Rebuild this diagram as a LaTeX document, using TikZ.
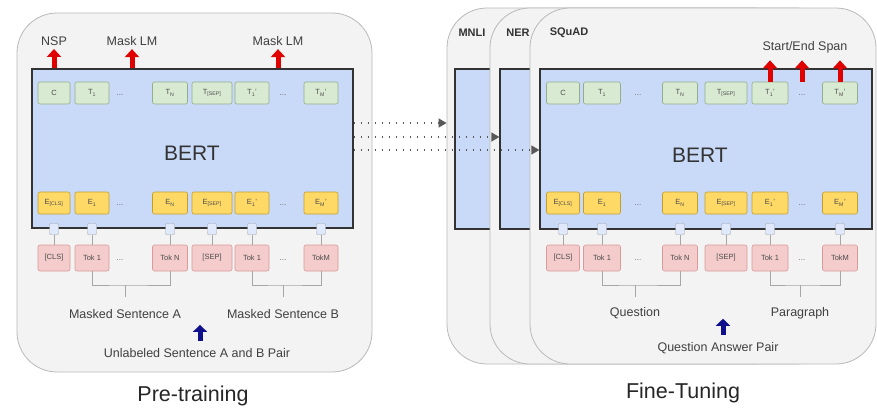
\documentclass[tikz,border=0pt]{standalone}
\usepackage{fontspec}
\setmainfont{Liberation Sans}
\usetikzlibrary{arrows.meta}

\definecolor{panelgray}{HTML}{F3F3F3}
\definecolor{bertblue}{HTML}{C9DAF8}
\definecolor{tgreen}{HTML}{D9EAD3}
\definecolor{tgreenline}{HTML}{93AE8C}
\definecolor{eyellow}{HTML}{FFD966}
\definecolor{eyellowline}{HTML}{BF9F30}
\definecolor{tokpink}{HTML}{F4CCCC}
\definecolor{tokpinkline}{HTML}{D99A9A}
\definecolor{headred}{HTML}{E00000}
\definecolor{inblue}{HTML}{10108C}

\tikzset{
  panel/.style={draw=gray!55, fill=panelgray, rounded corners=40pt, line width=0.8pt, inner sep=0pt},
  bertbox/.style={draw=black!80, fill=bertblue, line width=1.3pt, inner sep=0pt},
  berttext/.style={font=\fontsize{21}{23}\selectfont, text=black!80},
  tokbox/.style={rounded corners=2pt, line width=0.6pt, minimum height=22pt, inner sep=0pt,
    font=\fontsize{7.5}{8}\selectfont, text=black!70},
  outbox/.style={tokbox, draw=tgreenline, fill=tgreen},
  embbox/.style={tokbox, draw=eyellowline, fill=eyellow},
  inbox/.style={tokbox, draw=tokpinkline, fill=tokpink, minimum height=26pt},
  linkbox/.style={draw=gray!70, fill=bertblue!60, minimum width=9pt, minimum height=11pt,
    inner sep=0pt, rounded corners=1pt},
  dotsym/.style={font=\fontsize{8}{8}\selectfont, text=black!60},
  outarrow/.style={headred, line width=5pt, -{Triangle[width=14pt,length=8pt]}},
  inarrow/.style={inblue, line width=5pt, -{Triangle[width=14pt,length=7pt]}},
  ftarrow/.style={black!65, line width=1.5pt, dash pattern=on 1.5pt off 5.5pt,
    -{Triangle[width=9pt,length=8pt]}},
  lbl/.style={font=\fontsize{12.5}{14}\selectfont, text=black!75},
  tasklbl/.style={font=\bfseries\fontsize{11}{13}\selectfont, text=black!80},
  title/.style={font=\fontsize{21.5}{24}\selectfont, text=black!85},
}

\begin{document}
\begin{tikzpicture}[x=1pt,y=-1pt]
\useasboundingbox (0,0) rectangle (877,410);

% pre-training side
\node[panel, minimum width=355pt, minimum height=359pt] (pt-panel) at (194.5,192.5) {};
\node[bertbox, minimum width=321pt, minimum height=159pt] (pt-bert) at (192.5,148.5) {};
\node[berttext] at (192,153) {BERT};

% fine-tuning side: task panels stacked
\node[panel, minimum width=346pt, minimum height=356pt] (mnli-panel) at (620,186) {};
\node[bertbox, minimum width=332pt, minimum height=160pt] (mnli-bert) at (621,149) {};
\node[tasklbl] at (472,33) {MNLI};
\node[panel, minimum width=346pt, minimum height=356pt] (ner-panel) at (663,186) {};
\node[bertbox, minimum width=332pt, minimum height=160pt] (ner-bert) at (666,149) {};
\node[tasklbl] at (518,33) {NER};
\node[panel, minimum width=346pt, minimum height=356pt] (sq-panel) at (703,186) {};
\node[bertbox, minimum width=332pt, minimum height=160pt] (sq-bert) at (706,149) {};
\node[tasklbl] at (569,33) {SQuAD};
\node[berttext] at (700,155) {BERT};

% token columns, both sides
\foreach \n/\xl/\wl/\xr/\wr/\top/\emb/\tok in {
  1/54/32/563/33/C/E\textsubscript{[CLS]}/[CLS],
  2/92/34/602/37/T\textsubscript{1}/E\textsubscript{1}/Tok 1,
  3/170/35/680/35/T\textsubscript{N}/E\textsubscript{N}/Tok N,
  4/212/40/726/42/T\textsubscript{[SEP]}/E\textsubscript{[SEP]}/[SEP],
  5/252/34/770/36/T\textsubscript{1}'/E\textsubscript{1}'/Tok 1,
  6/321/34/840/35/T\textsubscript{M}'/E\textsubscript{M}'/TokM}{
  \foreach \p/\x/\w in {pt/\xl/\wl, sq/\xr/\wr}{
    \node[outbox, minimum width=\w pt] (\p-top-\n) at (\x,93) {\top};
    \node[embbox, minimum width=\w pt] (\p-emb-\n) at (\x,203) {\emb};
    \node[inbox, minimum width=\w pt] (\p-tok-\n) at (\x,258) {\tok};
    \node[linkbox] (\p-lnk-\n) at (\x,229) {};
    \draw[gray!70] (\p-lnk-\n) -- (\p-tok-\n);
  }
}
\foreach \p/\xa/\xb in {pt/120/283, sq/638/802}{
  \node[dotsym] (\p-dots-a) at (\xa,95) {...};
  \node[dotsym] (\p-dots-b) at (\xb,95) {...};
  \foreach \y in {205,260}{
    \node[dotsym] at (\xa,\y) {...};
    \node[dotsym] at (\xb,\y) {...};
  }
}

% sentence brackets
\coordinate (pt-brA) at (125,285);
\coordinate (pt-brB) at (283,285);
\coordinate (sq-brA) at (635,285);
\coordinate (sq-brB) at (800,285);
\foreach \p/\s in {pt/A, sq/A}{
  \draw[gray!70] (\p-tok-2.south) |- (\p-br\s) -| (\p-tok-3.south);
  \draw[gray!70] (\p-br\s) -- ++(0,12);
}
\foreach \p/\s in {pt/B, sq/B}{
  \draw[gray!70] (\p-tok-5.south) |- (\p-br\s) -| (\p-tok-6.south);
  \draw[gray!70] (\p-br\s) -- ++(0,12);
}
\node[lbl] (pt-sentA) at (125,314) {Masked Sentence A};
\node[lbl] (pt-sentB) at (283,314) {Masked Sentence B};
\node[lbl] (sq-quest) at (635,313) {Question};
\node[lbl] (sq-para) at (800,313) {Paragraph};

% inputs
\node[lbl] (pt-pair) at (197,353) {Unlabeled Sentence A and B Pair};
\draw[inarrow] ([xshift=3pt,yshift=4pt]pt-pair.north) -- ++(0,-16);
\node[lbl] (sq-pair) at (718,348) {Question Answer Pair};
\draw[inarrow] ([xshift=5pt,yshift=4pt]sq-pair.north) -- ++(0,-16);

% output heads
\node[lbl] (pt-nsp) at (54,41) {NSP};
\node[lbl] (pt-mlm-a) at (132,41) {Mask LM};
\node[lbl] (pt-mlm-b) at (278,41) {Mask LM};
\foreach \h in {pt-nsp, pt-mlm-a, pt-mlm-b}
  \draw[outarrow] (pt-bert.north -| \h) -- (\h.south);
\node[lbl] (sq-span) at (805,47) {Start/End Span};
\foreach \c in {sq-top-5, sq-dots-b, sq-top-6}
  \draw[outarrow] (\c |- sq-top-5.north) -- ([yshift=-4pt]\c |- sq-span.south);

% pre-trained weights carried over
\foreach \dy/\target in {25.5/mnli-panel, 11.5/ner-bert, -1.5/sq-bert}
  \draw[ftarrow] ([yshift=\dy pt]pt-bert.east) coordinate (from) -- (from -| \target.west);

\node[title] (pt-title) at (193,396) {Pre-training};
\node[title] (ft-title) at (683,393) {Fine-Tuning};
\end{tikzpicture}
\end{document}
